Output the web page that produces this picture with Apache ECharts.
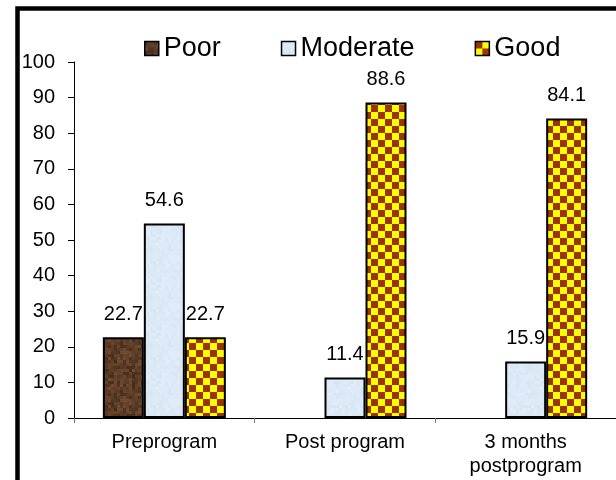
<!DOCTYPE html>
<html>
<head>
<meta charset="utf-8">
<script src="https://cdn.jsdelivr.net/npm/echarts@6/dist/echarts.min.js"></script>
<style>
  html, body { margin: 0; padding: 0; background: #fff; }
  #chart { width: 616px; height: 480px; }
</style>
</head>
<body>
<div id="chart"></div>
<script>
// Knowledge level of participants across the three measurement points (%)
const categories = ['Preprogram', 'Post program', '3 months\npostprogram'];
const seriesNames = ['Poor', 'Moderate', 'Good'];
const poorValues = [22.7, null, null];
const moderateValues = [54.6, 11.4, 15.9];
const goodValues = [22.7, 88.6, 84.1];
const yTicks = { min: 0, max: 100, step: 10 };

// Yellow / rust checkerboard fill
function checkerPattern(size) {
  const c = document.createElement('canvas');
  c.width = size * 2; c.height = size * 2;
  const g = c.getContext('2d');
  g.fillStyle = '#ffff00'; g.fillRect(0, 0, size * 2, size * 2);
  g.fillStyle = '#9c3300';
  g.fillRect(0, 0, size, size);
  g.fillRect(size, size, size, size);
  return c;
}

// Mottled fill (deterministic hash noise)
function mottled(base, spread, w, h, cell) {
  const c = document.createElement('canvas');
  c.width = w; c.height = h;
  const g = c.getContext('2d');
  const hash = (x, y) => {
    const s = Math.sin(x * 127.1 + y * 311.7) * 43758.5453;
    return s - Math.floor(s);
  };
  for (let y = 0; y < h; y += cell) {
    for (let x = 0; x < w; x += cell) {
      const n = (hash(x, y) - 0.5) * 2 * spread;
      const r = Math.max(0, Math.min(255, base[0] + n));
      const gg = Math.max(0, Math.min(255, base[1] + n * 0.75));
      const b = Math.max(0, Math.min(255, base[2] + n * 0.5));
      g.fillStyle = 'rgb(' + r.toFixed(0) + ',' + gg.toFixed(0) + ',' + b.toFixed(0) + ')';
      g.fillRect(x, y, cell, cell);
    }
  }
  return c;
}

const poorFill = { image: mottled([92, 60, 38], 22, 48, 48, 3), repeat: 'repeat' };
const moderateFill = { image: mottled([220, 233, 246], 5, 48, 48, 3), repeat: 'repeat' };
const goodFill = { image: checkerPattern(7), repeat: 'repeat' };

const textFont = 'Liberation Sans, Arial, sans-serif';

const chart = echarts.init(document.getElementById('chart'), null, { renderer: 'canvas' });

function barSeries(name, data, fill) {
  return {
    name: name,
    type: 'bar',
    data: data,
    barWidth: 41,
    barGap: '0%',
    itemStyle: { color: fill, borderColor: '#000', borderWidth: 2 },
    label: {
      show: true,
      position: 'top',
      distance: 13,
      color: '#000',
      fontFamily: textFont,
      fontSize: 20,
      formatter: p => (p.value == null ? '' : p.value.toFixed(1))
    }
  };
}

chart.setOption({
  animation: false,
  backgroundColor: '#fff',
  legend: {
    left: 139,
    top: 30,
    itemWidth: 14,
    itemHeight: 14,
    itemGap: 60,
    icon: 'rect',
    itemStyle: { borderColor: '#000', borderWidth: 1.5 },
    textStyle: { fontFamily: textFont, fontSize: 27, color: '#000' },
    data: seriesNames
  },
  grid: { left: 74, top: 62, height: 356, width: 543 },
  xAxis: {
    type: 'category',
    data: categories,
    axisLine: { lineStyle: { color: '#000', width: 1 } },
    axisTick: { show: true, length: 5, lineStyle: { color: '#777' } },
    axisLabel: {
      color: '#000',
      fontFamily: textFont,
      fontSize: 20,
      lineHeight: 24,
      margin: 12
    }
  },
  yAxis: {
    type: 'value',
    min: yTicks.min,
    max: yTicks.max,
    interval: yTicks.step,
    axisLine: { show: true, lineStyle: { color: '#000', width: 1 } },
    axisTick: { show: true, length: 6, lineStyle: { color: '#000' } },
    splitLine: { show: false },
    axisLabel: { color: '#000', fontFamily: textFont, fontSize: 20, margin: 19 }
  },
  series: [
    barSeries(seriesNames[0], poorValues, poorFill),
    barSeries(seriesNames[1], moderateValues, moderateFill),
    barSeries(seriesNames[2], goodValues, goodFill)
  ],
  graphic: [
    {
      type: 'text',
      left: -12,
      top: -33,
      silent: true,
      style: {
        text: 'months post program.',
        font: '34px "Liberation Serif", serif',
        fill: '#000'
      }
    },
    {
      type: 'rect',
      silent: true,
      shape: { x: 17.5, y: 8.5, width: 800, height: 800 },
      style: { fill: 'none', stroke: '#000', lineWidth: 4.5 }
    }
  ]
});
</script>
</body>
</html>
